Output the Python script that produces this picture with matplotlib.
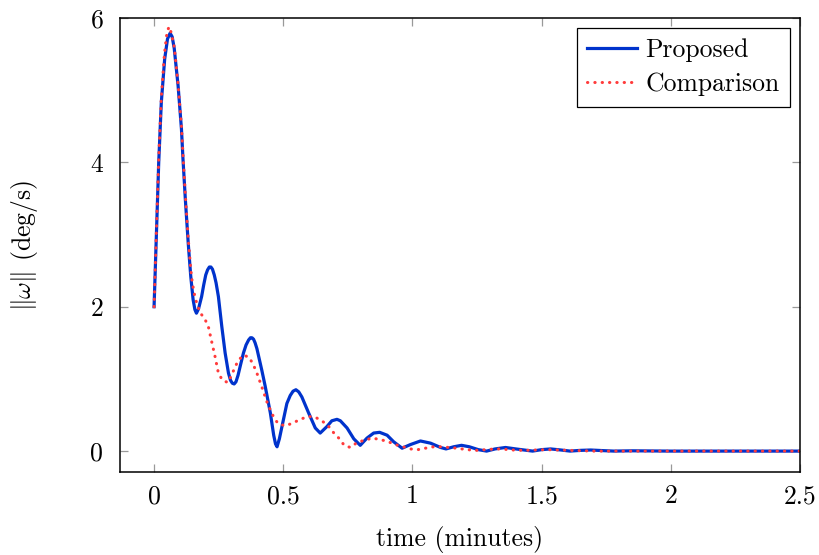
import matplotlib
matplotlib.use('Agg')
import matplotlib.pyplot as plt

plt.rcParams['font.family'] = 'serif'
plt.rcParams['font.serif'] = ['cmr10']
plt.rcParams['mathtext.fontset'] = 'cm'
plt.rcParams['axes.formatter.use_mathtext'] = True

# proposed controller, angular rate norm (deg/s) vs time (minutes)
t_prop = [0, 0.009, 0.018, 0.028, 0.041, 0.052, 0.062, 0.070, 0.078, 0.093,
          0.106, 0.112, 0.121, 0.132, 0.142, 0.151, 0.158, 0.164, 0.172, 0.184,
          0.192, 0.200, 0.207, 0.214, 0.220, 0.226, 0.233, 0.240, 0.249, 0.262,
          0.275, 0.288, 0.296, 0.303, 0.310, 0.317, 0.325, 0.335, 0.346, 0.356,
          0.366, 0.373, 0.379, 0.385, 0.391, 0.398, 0.417, 0.430, 0.450, 0.463,
          0.470, 0.476, 0.485, 0.495, 0.514, 0.527, 0.538, 0.549, 0.560, 0.572,
          0.598, 0.624, 0.643, 0.669, 0.688, 0.708, 0.721, 0.747, 0.773, 0.798,
          0.824, 0.850, 0.873, 0.902, 0.927, 0.960, 0.992, 1.031, 1.070, 1.109,
          1.130, 1.160, 1.190, 1.220, 1.255, 1.287, 1.320, 1.360, 1.400, 1.465,
          1.500, 1.535, 1.575, 1.610, 1.650, 1.690, 1.735, 1.780, 1.850, 2.0,
          2.5]
w_prop = [2.0, 3.0, 4.0, 4.83, 5.43, 5.71, 5.79, 5.74, 5.58, 5.06,
          4.46, 4.04, 3.49, 2.89, 2.42, 2.10, 1.96, 1.91, 1.97, 2.14,
          2.30, 2.44, 2.51, 2.55, 2.55, 2.52, 2.44, 2.33, 2.14, 1.73,
          1.36, 1.08, 0.98, 0.94, 0.93, 0.96, 1.05, 1.20, 1.36, 1.47,
          1.54, 1.57, 1.57, 1.55, 1.50, 1.42, 1.12, 0.90, 0.53, 0.22,
          0.10, 0.06, 0.17, 0.34, 0.66, 0.77, 0.83, 0.85, 0.82, 0.75,
          0.53, 0.32, 0.25, 0.34, 0.42, 0.44, 0.42, 0.32, 0.17, 0.08,
          0.18, 0.25, 0.26, 0.22, 0.13, 0.04, 0.09, 0.14, 0.11, 0.05,
          0.03, 0.06, 0.08, 0.06, 0.02, 0.0, 0.03, 0.05, 0.03, 0.0,
          0.02, 0.03, 0.015, 0.0, 0.01, 0.015, 0.007, 0.0, 0.004, 0.0,
          0.0]

# comparison controller
t_comp = [0, 0.009, 0.018, 0.028, 0.040, 0.050, 0.058, 0.066, 0.078, 0.093,
          0.106, 0.112, 0.121, 0.132, 0.142, 0.148, 0.159, 0.170, 0.178, 0.190,
          0.198, 0.211, 0.224, 0.236, 0.249, 0.265, 0.286, 0.301, 0.314, 0.327,
          0.346, 0.368, 0.385, 0.398, 0.417, 0.437, 0.450, 0.463, 0.480, 0.508,
          0.538, 0.566, 0.596, 0.624, 0.653, 0.676, 0.696, 0.715, 0.736, 0.760,
          0.786, 0.814, 0.844, 0.876, 0.906, 0.934, 0.964, 0.992, 1.021, 1.050,
          1.083, 1.115, 1.140, 1.173, 1.210, 1.250, 1.300, 1.340, 1.390, 1.430,
          1.520, 1.610, 1.700, 2.5]
w_comp = [2.0, 3.05, 4.05, 4.9, 5.5, 5.8, 5.88, 5.8, 5.6, 5.08,
          4.5, 4.1, 3.55, 2.95, 2.52, 2.33, 2.12, 2.0, 1.92, 1.86,
          1.82, 1.71, 1.50, 1.31, 1.08, 0.98, 0.95, 1.06, 1.17, 1.26,
          1.33, 1.30, 1.19, 1.08, 0.89, 0.68, 0.57, 0.47, 0.38, 0.35,
          0.39, 0.44, 0.48, 0.47, 0.41, 0.34, 0.25, 0.18, 0.08, 0.05,
          0.12, 0.15, 0.18, 0.16, 0.13, 0.09, 0.06, 0.03, 0.02, 0.04,
          0.06, 0.06, 0.05, 0.04, 0.02, 0.01, 0.025, 0.03, 0.015, 0.01,
          0.02, 0.01, 0.0, 0.0]

xticks = [0, 0.5, 1, 1.5, 2, 2.5]
xtick_labels = ['0', '0.5', '1', '1.5', '2', '2.5']
yticks = [0, 2, 4, 6]
ytick_labels = ['0', '2', '4', '6']

fig = plt.figure(figsize=(8.2, 5.55), dpi=100)
ax = fig.add_axes([0.1463, 0.1495, 0.8293, 0.8181])

ax.plot(t_prop, w_prop, color='#0033cc', lw=2.3, label='Proposed')
ax.plot(t_comp, w_comp, color='#ff3b3b', lw=2.2, linestyle=(0, (0.1, 2.3)),
        dash_capstyle='round', label='Comparison')

ax.set_xlim(-0.132, 2.5)
ax.set_ylim(-0.29, 6.0)
ax.set_xticks(xticks)
ax.set_xticklabels(xtick_labels)
ax.set_yticks(yticks)
ax.set_yticklabels(ytick_labels)
ax.tick_params(direction='in', length=6, width=0.9, color='#999999',
               top=True, right=True, labelsize=18.5)
ax.tick_params(axis='x', pad=9)
ax.tick_params(axis='y', pad=12)
for s in ax.spines.values():
    s.set_linewidth(1.1)

ax.set_xlabel('time (minutes)', fontsize=18.5, labelpad=13)
ax.set_ylabel(r'$\|\omega\|$ (deg/s)', fontsize=18.5, labelpad=36)

leg = ax.legend(loc='upper right', fontsize=18.5, fancybox=False, framealpha=1,
                edgecolor='black', handlelength=1.95, borderaxespad=0.4,
                borderpad=0.4, labelspacing=0.4, handletextpad=0.3)
leg.get_frame().set_linewidth(0.9)

fig.savefig('out.png', dpi=100)
